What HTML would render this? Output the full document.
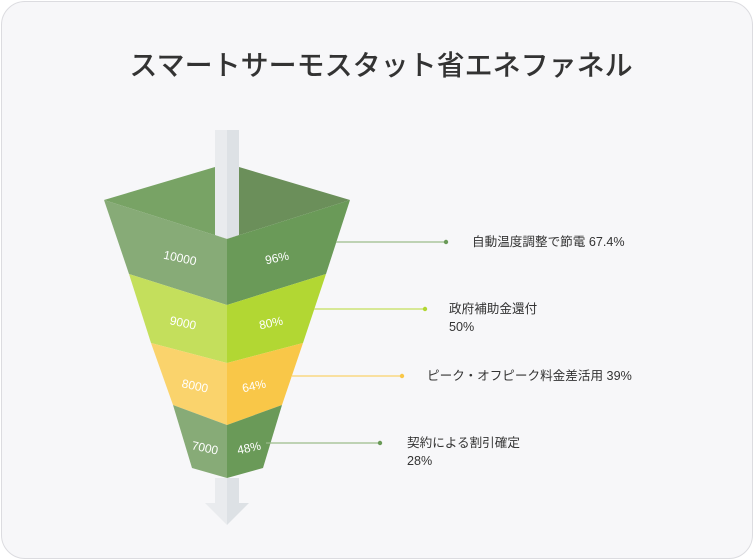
<!DOCTYPE html>
<html><head><meta charset="utf-8"><style>
html,body{margin:0;padding:0;background:#fff;}
body{width:754px;height:560px;overflow:hidden;}
.card{position:absolute;left:1px;top:1px;width:750px;height:556px;border:1px solid #dcdce0;border-radius:24px;background:#f7f7f9;}
svg{position:absolute;left:0;top:0;}
text{font-family:"Liberation Sans","Noto Sans CJK JP",sans-serif;}
</style></head><body>
<div class="card"></div>
<svg width="754" height="560" viewBox="0 0 754 560">
<text x="381" y="75" text-anchor="middle" font-size="28" fill="#333" font-weight="500">スマートサーモスタット省エネファネル</text>
<polygon points="104,200 215,167 227,165 227,239" fill="#78a365"/>
<polygon points="227,165 239,167 350,200 227,239" fill="#6b8f5a"/>
<rect x="215" y="130" width="12" height="105" fill="#e9ebee"/>
<rect x="227" y="130" width="12" height="105" fill="#dde1e5"/>
<polygon points="215,235 227,239 227,232 215,232" fill="#e9ebee"/>
<polygon points="239,235 227,239 227,232 239,232" fill="#dde1e5"/>
<polygon points="104,200 227,239 227,305 129,274" fill="#87ab77"/>
<polygon points="350,200 227,239 227,305 326,274" fill="#6a9a58"/>
<polygon points="129,274 227,305 227,363 151,343" fill="#c4df5c"/>
<polygon points="326,274 227,305 227,363 303,343" fill="#b2d733"/>
<polygon points="151,343 227,363 227,425 173,405" fill="#fad36c"/>
<polygon points="303,343 227,363 227,425 282,405" fill="#f9c748"/>
<polygon points="173,405 227,425 227,478 192,468" fill="#87ab77"/>
<polygon points="282,405 227,425 227,478 263,468" fill="#6a9a58"/>
<rect x="215" y="478" width="12" height="26" fill="#e9ebee"/>
<rect x="227" y="478" width="12" height="26" fill="#dde1e5"/>
<polygon points="205,503 227,503 227,525" fill="#e9ebee"/>
<polygon points="249,503 227,503 227,525" fill="#dde1e5"/>
<g fill="#fff" font-size="12" text-anchor="middle">
<text x="180" y="262" transform="rotate(12 180 258)">10000</text>
<text x="277" y="262" transform="rotate(-12 277 258)">96%</text>
<text x="183" y="327" transform="rotate(12 183 323)">9000</text>
<text x="271" y="327" transform="rotate(-12 271 323)">80%</text>
<text x="195" y="390" transform="rotate(12 195 386)">8000</text>
<text x="254" y="390" transform="rotate(-12 254 386)">64%</text>
<text x="205" y="452" transform="rotate(12 205 448)">7000</text>
<text x="249" y="452" transform="rotate(-12 249 448)">48%</text>
</g>
<line x1="336" y1="242" x2="446" y2="242" stroke="#9bbb8c" stroke-width="1.2"/><circle cx="446" cy="242" r="2.2" fill="#6a9a58"/>
<line x1="314" y1="309" x2="425" y2="309" stroke="#c4df5c" stroke-width="1.2"/><circle cx="425" cy="309" r="2.2" fill="#b2d733"/>
<line x1="292" y1="376" x2="402" y2="376" stroke="#fad36c" stroke-width="1.2"/><circle cx="402" cy="376" r="2.2" fill="#f9c748"/>
<line x1="266" y1="443" x2="380" y2="443" stroke="#9bbb8c" stroke-width="1.2"/><circle cx="380" cy="443" r="2.2" fill="#6a9a58"/>
<g fill="#333" font-size="12.6">
<text x="472" y="246">自動温度調整で節電 67.4%</text>
<text x="449" y="313">政府補助金還付</text>
<text x="449" y="331">50%</text>
<text x="427" y="380">ピーク・オフピーク料金差活用 39%</text>
<text x="407" y="447">契約による割引確定</text>
<text x="407" y="465">28%</text>
</g>
</svg>
</body></html>
